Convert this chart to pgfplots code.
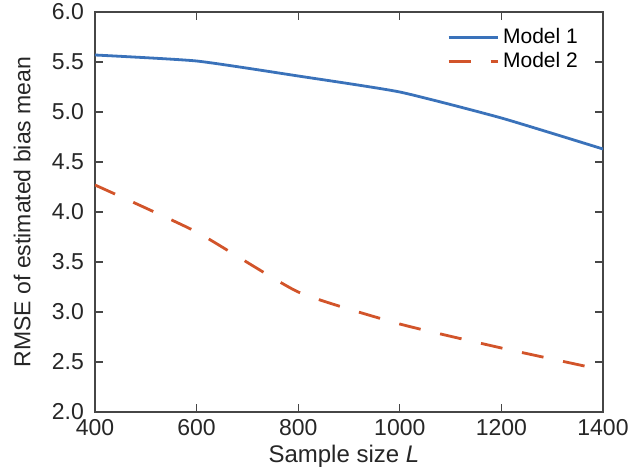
\documentclass[border=0pt]{standalone}
\usepackage{pgfplots}
\pgfplotsset{compat=1.18}
\usepackage{fontspec}
\setmainfont{Liberation Sans}
\definecolor{mblue}{RGB}{58,114,186}
\definecolor{mred}{RGB}{210,84,42}
\definecolor{spine}{RGB}{70,70,70}
\begin{document}
\begin{tikzpicture}
\begin{axis}[
  scale only axis,
  width=254pt, height=200pt,
  xmin=400, xmax=1400, ymin=2, ymax=6,
  xtick={400,600,...,1400},
  ytick={2,2.5,...,6},
  /pgf/number format/assume math mode=true,
  yticklabel style={/pgf/number format/.cd,fixed,fixed zerofill,precision=1,/tikz/.cd, xshift=-2pt},
  xticklabel style={/pgf/number format/.cd,set thousands separator={}},
  tick label style={font=\fontsize{11.5}{13}\selectfont, text=black!85},
  label style={font=\fontsize{11.5}{13}\selectfont, text=black!85},
  tick align=inside,
  major tick length=4pt,
  tick style={spine, line width=0.6pt},
  axis line style={spine, line width=0.8pt},
  xlabel={Sample size \textit{L}},
  ylabel={RMSE of estimated bias mean},
  xlabel style={at={(axis description cs:0.49,-0.125)}, anchor=base, font=\fontsize{12}{13}\selectfont},
  ylabel style={at={(axis description cs:-0.113,0.5)}, anchor=south},
  legend style={draw=none, fill=none, at={(0.963,0.975)}, anchor=north east,
    font=\fontsize{10.5}{11}\selectfont, row sep=-1pt, inner sep=1pt},
  legend cell align=left,
  legend image code/.code={\draw[#1] (-3.5pt,0pt) -- (21pt,0pt);},
]
\coordinate (ll) at (rel axis cs:0,0);
\coordinate (ur) at (rel axis cs:1,1);
\addplot[mblue, line width=1.4pt, smooth, tension=0.3] coordinates {
  (400,5.57) (600,5.51) (800,5.36) (1000,5.20) (1200,4.94) (1400,4.63)
};
\addlegendentry{Model 1}
\addplot[mred, line width=1.4pt, dash pattern=on 11pt off 10pt, smooth, tension=0.3] coordinates {
  (400,4.27) (600,3.80) (800,3.20) (1000,2.88) (1200,2.64) (1400,2.42)
};
\addlegendentry{Model 2}
\end{axis}
\pgfresetboundingbox
\path[use as bounding box] ([shift={(-47.5pt,-27.5pt)}]ll) rectangle ([shift={(17.5pt,6pt)}]ur);
\end{tikzpicture}
\end{document}
